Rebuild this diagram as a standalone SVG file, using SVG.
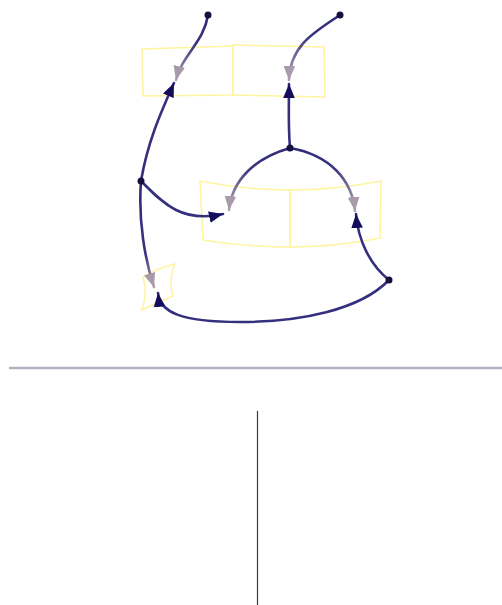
<svg xmlns="http://www.w3.org/2000/svg" width="502" height="605" viewBox="0 0 502 605">
<style>
.box{fill:none;stroke:#fff4a0;stroke-width:1.6}
.e{fill:none;stroke-width:2.6;stroke-linecap:round}
.n{stroke:#35307e}
.dot{fill:#15103f}
</style>
<defs>
<marker id="an" viewBox="0 0 12 10" refX="12" refY="5" markerWidth="14" markerHeight="12" markerUnits="userSpaceOnUse" orient="auto"><path d="M0,0 L12,5 L0,10 z" fill="#140c5c"/></marker>
<marker id="ag" viewBox="0 0 12 10" refX="12" refY="5" markerWidth="14" markerHeight="12" markerUnits="userSpaceOnUse" orient="auto"><path d="M0,0 L12,5 L0,10 z" fill="#a89aaa"/></marker>
<linearGradient id="g1" gradientUnits="userSpaceOnUse" x1="208" y1="15" x2="176" y2="80"><stop offset="0" stop-color="#2e2a7a"/><stop offset="0.45" stop-color="#3a3580"/><stop offset="1" stop-color="#b0a4b0"/></linearGradient>
<linearGradient id="g2" gradientUnits="userSpaceOnUse" x1="340" y1="15" x2="289" y2="80"><stop offset="0" stop-color="#2e2a7a"/><stop offset="0.45" stop-color="#3a3580"/><stop offset="1" stop-color="#b0a4b0"/></linearGradient>
<linearGradient id="g5" gradientUnits="userSpaceOnUse" x1="290" y1="148" x2="229" y2="210"><stop offset="0" stop-color="#2e2a7a"/><stop offset="0.5" stop-color="#3a3580"/><stop offset="1" stop-color="#b0a4b0"/></linearGradient>
<linearGradient id="g6" gradientUnits="userSpaceOnUse" x1="290" y1="148" x2="355" y2="211"><stop offset="0" stop-color="#2e2a7a"/><stop offset="0.5" stop-color="#3a3580"/><stop offset="1" stop-color="#b0a4b0"/></linearGradient>
<linearGradient id="g9" gradientUnits="userSpaceOnUse" x1="141" y1="181" x2="154" y2="287"><stop offset="0" stop-color="#2e2a7a"/><stop offset="0.7" stop-color="#3a3580"/><stop offset="1" stop-color="#b0a4b0"/></linearGradient>
</defs>
<g id="boxA"><path class="box" d="M142,49 L233,46 L233,95 L143,96 Z"/></g>
<g id="boxB"><path class="box" d="M233,45 L324,47 L325,97 L233,95 Z"/></g>
<g id="boxC"><path class="box" d="M200,181 Q245,190 290,190 L290,247 Q246,247 203,240 Z"/></g>
<g id="boxD"><path class="box" d="M290,190 Q335,190 381,181 L380,238 Q335,247 290,247 Z"/></g>
<g id="boxE"><path class="box" d="M143,277 Q158,268 175,264 Q168,280 173,296 Q158,302 142,310 Q148,292 143,277 Z"/></g>
<g id="connectors">
<path class="e" stroke="url(#g1)" d="M208,15 C204,42 182,55 176,80" marker-end="url(#ag)"/>
<path class="e" stroke="url(#g2)" d="M340,15 C315,32 290,45 289,80" marker-end="url(#ag)"/>
<path class="e n" d="M141,181 C148,140 162,110 174,83" marker-end="url(#an)"/>
<path class="e n" d="M290,148 C288,125 289,105 289,84" marker-end="url(#an)"/>
<path class="e" stroke="url(#g5)" d="M290,148 C255,158 232,180 229,210" marker-end="url(#ag)"/>
<path class="e" stroke="url(#g6)" d="M290,148 C330,155 352,180 355,211" marker-end="url(#ag)"/>
<path class="e n" d="M389,280 C370,265 358,240 356,214" marker-end="url(#an)"/>
<path class="e n" d="M141,181 C160,200 180,224 223,214" marker-end="url(#an)"/>
<path class="e" stroke="url(#g9)" d="M141,181 C138,220 145,260 154,287" marker-end="url(#ag)"/>
<path class="e n" d="M389,280 C360,310 300,322 240,322 C180,322 160,312 158,293" marker-end="url(#an)"/>
</g>
<g id="dots">
<circle class="dot" cx="208" cy="15" r="3.5"/>
<circle class="dot" cx="340" cy="15" r="3.5"/>
<circle class="dot" cx="290" cy="148" r="3.5"/>
<circle class="dot" cx="141" cy="181" r="3.5"/>
<circle class="dot" cx="389" cy="280" r="3.5"/>
</g>
<line x1="9" y1="368" x2="502" y2="368" stroke="#b4b2c2" stroke-width="2.5"/>
<line x1="257.5" y1="411" x2="257.5" y2="605" stroke="#3a3848" stroke-width="1.2"/>
</svg>
